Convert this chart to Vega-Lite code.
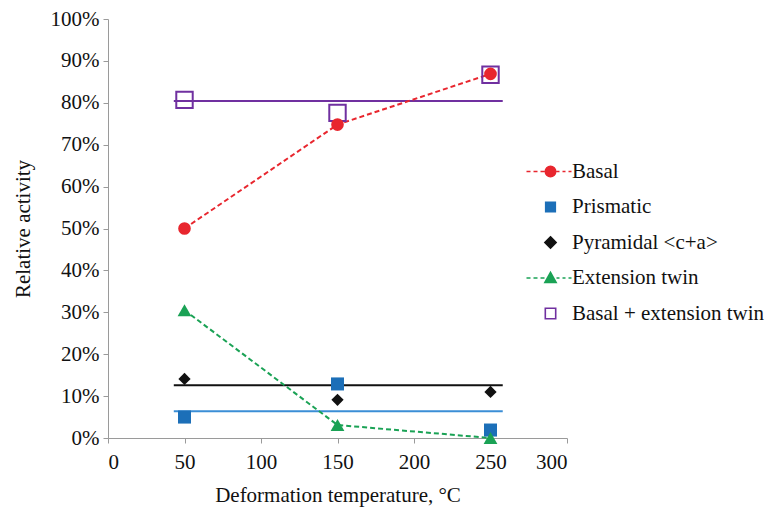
{
  "$schema": "https://vega.github.io/schema/vega-lite/v6.json",
  "width": 459,
  "height": 419,
  "autosize": "none",
  "padding": {"left": 108, "top": 19, "right": 210, "bottom": 78},
  "background": "white",
  "config": {
    "view": {"stroke": null},
    "font": "Liberation Serif",
    "axis": {
      "grid": false,
      "domainColor": "#9a9a9a",
      "tickColor": "#9a9a9a",
      "tickSize": 5,
      "labelFont": "Liberation Serif",
      "titleFont": "Liberation Serif",
      "labelFontSize": 21,
      "labelColor": "#111",
      "titleFontSize": 21,
      "titleFontWeight": "normal",
      "titleColor": "#111"
    },
    "legend": {
      "title": null, "orient": "none", "legendX": 432, "legendY": 142,
      "symbolSize": 64, "labelFont": "Liberation Serif", "labelFontSize": 21, "labelOffset": 11, "rowPadding": 13.5,
      "labelColor": "#111", "symbolStrokeWidth": 1.6, "labelLimit": 300
    }
  },
  "datasets": {
    "pts": [
      {"series": "Basal", "T": 50, "v": 50},
      {"series": "Basal", "T": 150, "v": 74.8},
      {"series": "Basal", "T": 250, "v": 86.9},
      {"series": "Prismatic", "T": 50, "v": 5},
      {"series": "Prismatic", "T": 150, "v": 12.9},
      {"series": "Prismatic", "T": 250, "v": 1.9},
      {"series": "Pyramidal <c+a>", "T": 50, "v": 14.1},
      {"series": "Pyramidal <c+a>", "T": 150, "v": 9.1},
      {"series": "Pyramidal <c+a>", "T": 250, "v": 11},
      {"series": "Extension twin", "T": 50, "v": 30.5},
      {"series": "Extension twin", "T": 150, "v": 3.1},
      {"series": "Extension twin", "T": 250, "v": 0},
      {"series": "Basal + extension twin", "T": 50, "v": 80.7},
      {"series": "Basal + extension twin", "T": 150, "v": 77.6},
      {"series": "Basal + extension twin", "T": 250, "v": 86.7}
    ],
    "trend": [
      {"series": "Prismatic", "x1": 43, "x2": 258, "y": 6.4},
      {"series": "Pyramidal <c+a>", "x1": 43, "x2": 258, "y": 12.6},
      {"series": "Basal + extension twin", "x1": 43, "x2": 258, "y": 80.4}
    ]
  },
  "layer": [
    {
      "data": {"name": "trend"},
      "mark": {"type": "rule", "strokeWidth": 2},
      "encoding": {
        "x": {"field": "x1", "type": "quantitative", "scale": {"domain": [0, 300], "nice": false},
              "axis": {"values": [0, 50, 100, 150, 200, 250, 300], "labelPadding": 8, "title": "Deformation temperature, °C", "titlePadding": 12}},
        "x2": {"field": "x2"},
        "y": {"field": "y", "type": "quantitative", "scale": {"domain": [0, 100], "nice": false},
              "axis": {"values": [0, 10, 20, 30, 40, 50, 60, 70, 80, 90, 100], "labelExpr": "datum.value + '%'", "labelPadding": 4, "title": "Relative activity", "titlePadding": 17}},
        "stroke": {"field": "series", "type": "nominal", "legend": null,
                   "scale": {"domain": ["Prismatic", "Pyramidal <c+a>", "Basal + extension twin"], "range": ["#3b8ed6", "#111111", "#7030a0"]}}
      }
    },
    {
      "data": {"name": "pts"},
      "transform": [{"filter": "datum.series === 'Basal'"}],
      "mark": {"type": "line", "strokeWidth": 2, "strokeDash": [5, 3], "color": "#e8262e"},
      "encoding": {
        "x": {"field": "T", "type": "quantitative"},
        "y": {"field": "v", "type": "quantitative"}
      }
    },
    {
      "data": {"name": "pts"},
      "transform": [{"filter": "datum.series === 'Extension twin'"}],
      "mark": {"type": "line", "strokeWidth": 2, "strokeDash": [5, 3], "color": "#1aa255"},
      "encoding": {
        "x": {"field": "T", "type": "quantitative"},
        "y": {"field": "v", "type": "quantitative"}
      }
    },
    {
      "data": {"name": "pts"},
      "transform": [{"filter": "datum.series === 'Basal + extension twin'"}],
      "mark": {"type": "point", "shape": "square", "filled": false, "size": 270, "strokeWidth": 2, "opacity": 1, "color": "#7030a0"},
      "encoding": {
        "x": {"field": "T", "type": "quantitative"},
        "y": {"field": "v", "type": "quantitative"}
      }
    },
    {
      "data": {"name": "pts"},
      "transform": [{"filter": "datum.series === 'Basal'"}],
      "mark": {"type": "point", "shape": "circle", "filled": true, "size": 160, "opacity": 1, "color": "#e8262e"},
      "encoding": {
        "x": {"field": "T", "type": "quantitative"},
        "y": {"field": "v", "type": "quantitative"}
      }
    },
    {
      "data": {"name": "pts"},
      "transform": [{"filter": "datum.series === 'Prismatic'"}],
      "mark": {"type": "point", "shape": "square", "filled": true, "size": 170, "opacity": 1, "color": "#1c6fb8"},
      "encoding": {
        "x": {"field": "T", "type": "quantitative"},
        "y": {"field": "v", "type": "quantitative"}
      }
    },
    {
      "data": {"name": "pts"},
      "transform": [{"filter": "datum.series === 'Pyramidal <c+a>'"}],
      "mark": {"type": "point", "shape": "diamond", "filled": true, "size": 150, "opacity": 1, "color": "#111111"},
      "encoding": {
        "x": {"field": "T", "type": "quantitative"},
        "y": {"field": "v", "type": "quantitative"}
      }
    },
    {
      "data": {"name": "pts"},
      "transform": [{"filter": "datum.series === 'Extension twin'"}],
      "mark": {"type": "point", "shape": "triangle-up", "filled": true, "size": 190, "opacity": 1, "color": "#1aa255"},
      "encoding": {
        "x": {"field": "T", "type": "quantitative"},
        "y": {"field": "v", "type": "quantitative"}
      }
    },
    {
      "data": {"name": "pts"},
      "mark": {"type": "point", "filled": false, "strokeWidth": 1.6, "opacity": 1},
      "encoding": {
        "x": {"field": "T", "type": "quantitative"},
        "y": {"field": "v", "type": "quantitative"},
        "size": {"value": 0},
        "color": {"field": "series", "type": "nominal",
                  "scale": {"domain": ["Basal", "Prismatic", "Pyramidal <c+a>", "Extension twin", "Basal + extension twin"],
                            "range": ["#e8262e", "#1c6fb8", "#111111", "#1aa255", "#7030a0"]}},
        "fill": {"field": "series", "type": "nominal",
                 "scale": {"domain": ["Basal", "Prismatic", "Pyramidal <c+a>", "Extension twin", "Basal + extension twin"],
                           "range": ["#e8262e", "#1c6fb8", "#111111", "#1aa255", "#ffffff"]}},
        "shape": {"field": "series", "type": "nominal",
                  "scale": {"domain": ["Basal", "Prismatic", "Pyramidal <c+a>", "Extension twin", "Basal + extension twin"],
                            "range": [
                              "M-6,0L-5,0M-4.25,0L-3.25,0M-2.5,0L-1.5,0M1.5,0L2.25,0M3,0L3.75,0M4.5,0L5.25,0M-1.3,0A1.3,1.3 0 1,1 1.3,0A1.3,1.3 0 1,1 -1.3,0Z",
                              "M-1.2,-1.2L1.2,-1.2L1.2,1.2L-1.2,1.2Z",
                              "M0,-1.4L1.4,0L0,1.4L-1.4,0Z",
                              "M-6,0L-5,0M-4.25,0L-3.25,0M-2.5,0L-1.5,0M1.5,0L2.25,0M3,0L3.75,0M4.5,0L5.25,0M0,-1.4L1.4,1.1L-1.4,1.1Z",
                              "M-1.3,-1.3L1.3,-1.3L1.3,1.3L-1.3,1.3Z"
                            ]}}
      }
    }
  ]
}
